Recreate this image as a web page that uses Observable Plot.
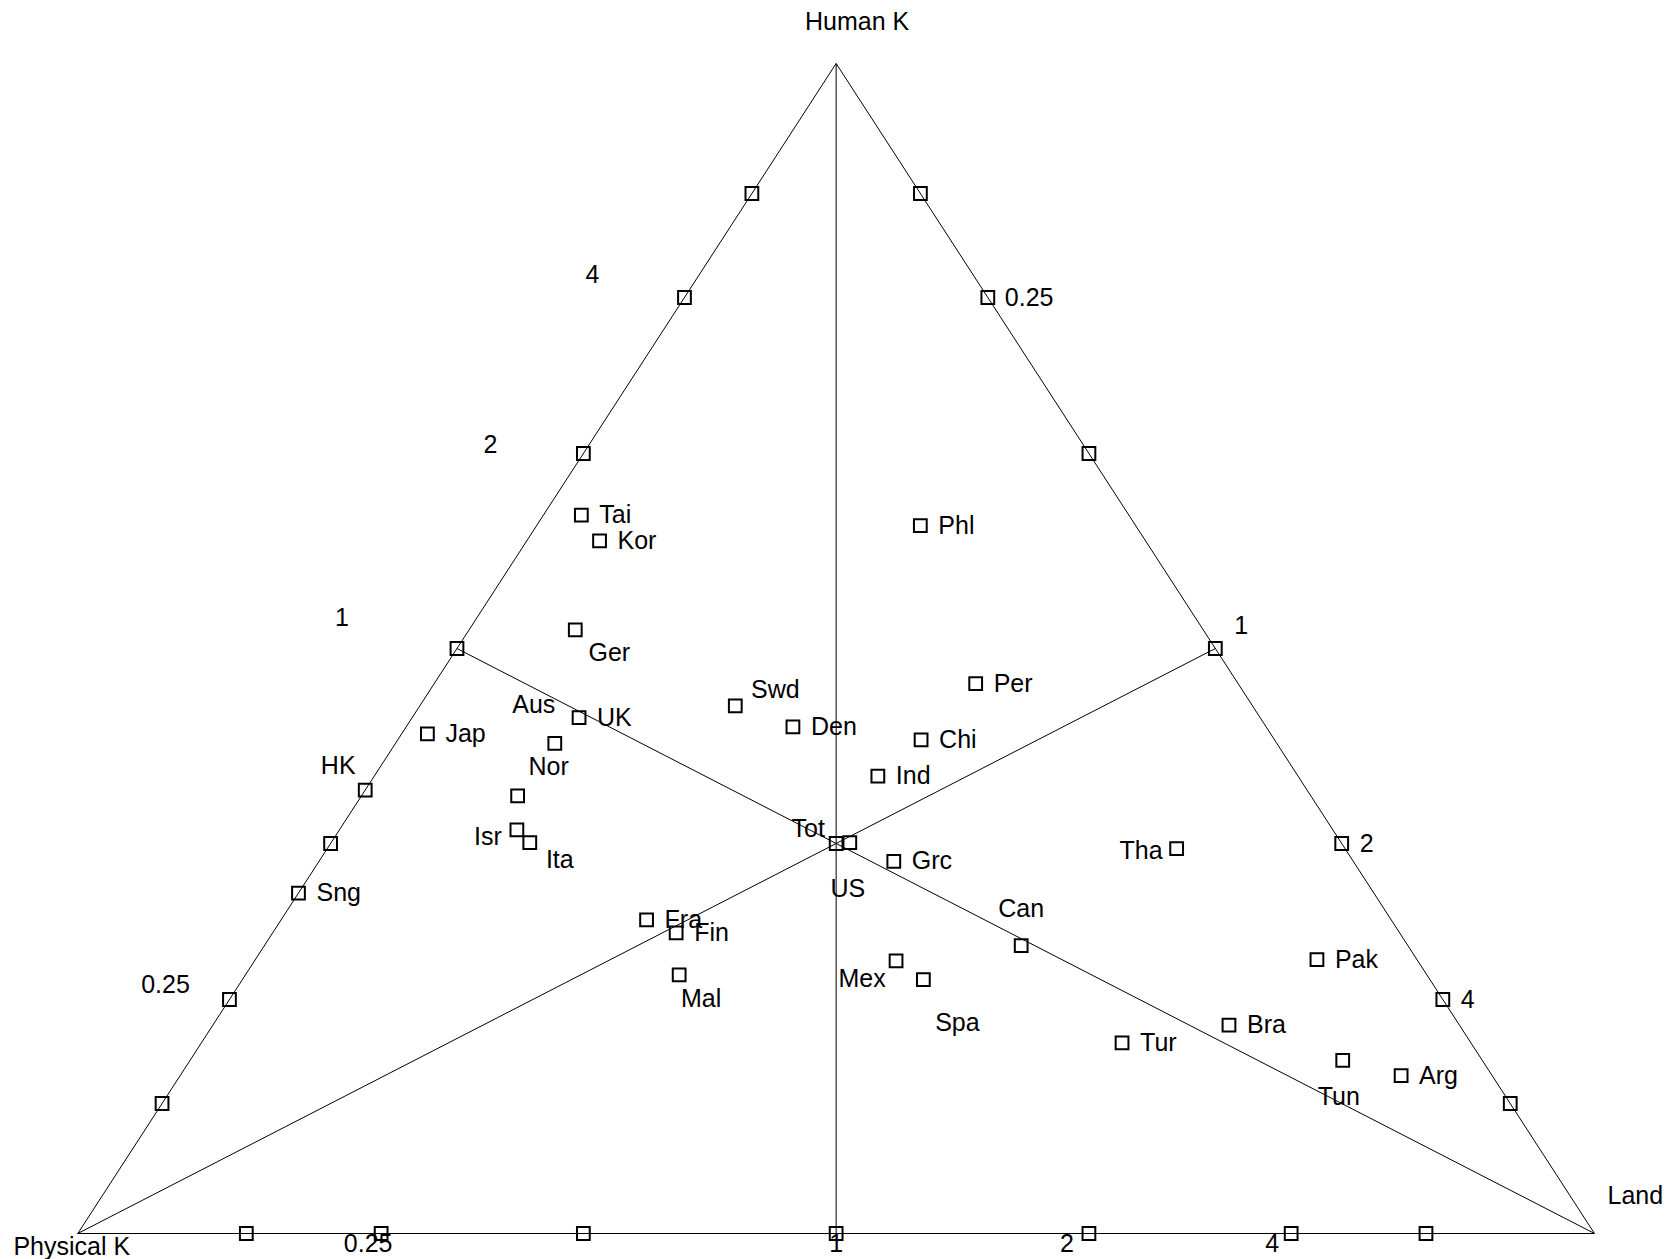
<!DOCTYPE html>
<html><head><meta charset="utf-8">
<script src="https://cdn.jsdelivr.net/npm/d3@7"></script>
<script src="https://cdn.jsdelivr.net/npm/@observablehq/plot@0.6"></script>
<style>body{margin:0;background:#fff}svg{display:block}</style>
</head><body><div id="chart"></div>
<script>
// ---- data (shares of Human K, Physical K, Land) ----
const countries = ["Tai","Kor","Phl","Ger","Per","Swd","UK","Den","Chi","Jap","Aus","Ind","HK","Nor","Isr","Ita","Tot","US","Grc","Tha","Sng","Fra","Fin","Can","Mex","Pak","Mal","Spa","Bra","Tur","Tun","Arg"];
const humanShare    = [0.614,0.592,0.605,0.516,0.470,0.451,0.441,0.433,0.422,0.427,0.419,0.391,0.379,0.374,0.345,0.334,0.3333,0.334,0.318,0.329,0.291,0.268,0.257,0.246,0.233,0.234,0.221,0.217,0.178,0.163,0.148,0.135];
const physicalShare = [0.361,0.360,0.142,0.414,0.173,0.341,0.449,0.312,0.233,0.556,0.476,0.277,0.621,0.523,0.538,0.535,0.3333,0.324,0.303,0.111,0.709,0.491,0.477,0.255,0.344,0.066,0.493,0.334,0.152,0.230,0.092,0.060];
const landShare     = [0.025,0.048,0.253,0.070,0.357,0.208,0.110,0.255,0.345,0.017,0.105,0.332,0.000,0.103,0.117,0.131,0.3333,0.342,0.379,0.560,0.000,0.241,0.266,0.499,0.423,0.700,0.286,0.449,0.670,0.607,0.760,0.805];
const tickRatios = [0.125, 0.25, 0.5, 1, 2, 4, 8];
const tickLabels = ["", "0.25", "", "1", "2", "4", ""];
const vertexNames = ["Physical K", "Human K", "Land"];

// ---- layout / style ----
const font = "'Liberation Sans', Arial, Helvetica, sans-serif";
const FS = 25;
const labelNudge = {
  Ger:{a:"middle",dx:34,dy:23}, Swd:{a:"middle",dx:40,dy:-16}, Aus:{a:"middle",dx:-21,dy:-38},
  Nor:{a:"middle",dx:31,dy:-29}, Isr:{a:"end",dx:-15,dy:7}, Ita:{a:"middle",dx:30,dy:17},
  Tot:{a:"middle",dx:-28,dy:-15}, US:{a:"middle",dx:-2,dy:46}, Tha:{a:"end",dx:-14,dy:2},
  Can:{a:"middle",dx:0,dy:-37}, Mex:{a:"middle",dx:-34,dy:18}, Spa:{a:"middle",dx:34,dy:43},
  Tun:{a:"middle",dx:-4,dy:37}, HK:{a:"middle",dx:-27,dy:-24}, Mal:{a:"middle",dx:22,dy:24}
};
const defaultNudge = {a:"start",dx:18,dy:0};
const tickNudge = {
  left:  {"0.25":{a:"middle",dx:-64,dy:-15}, "1":{a:"middle",dx:-115,dy:-31}, "2":{a:"middle",dx:-93,dy:-9}, "4":{a:"middle",dx:-92,dy:-23}},
  right: {"0.25":{a:"start",dx:17,dy:0}, "1":{a:"middle",dx:26,dy:-23}, "2":{a:"start",dx:18,dy:0}, "4":{a:"start",dx:18,dy:0}},
  bottom:{"0.25":{a:"middle",dx:-13,dy:10}, "1":{a:"middle",dx:0,dy:10}, "2":{a:"middle",dx:-22,dy:10}, "4":{a:"middle",dx:-19,dy:10}}
};

function toXY(h, p, l) { const s = h + p + l; h /= s; l /= s; return {x: l + h / 2, y: h}; }

const points = countries.map((c, i) => ({name: c, ...toXY(humanShare[i], physicalShare[i], landShare[i])}));

const vP = toXY(0,1,0), vH = toXY(1,0,0), vL = toXY(0,0,1);
const triangle = [vP, vH, vL, vP];
const medians = [
  {a: vH, b: toXY(0,0.5,0.5)},
  {a: vP, b: toXY(0.5,0,0.5)},
  {a: vL, b: toXY(0.5,0.5,0)}
];

const edges = {
  bottom: r => { const t = r/(1+r); return toXY(0, 1-t, t); },   // Land / Physical
  left:   r => { const t = r/(1+r); return toXY(t, 1-t, 0); },   // Human / Physical
  right:  r => { const t = r/(1+r); return toXY(1-t, 0, t); }    // Land / Human
};
const ticks = [];
for (const e of Object.keys(edges)) tickRatios.forEach((r, i) => ticks.push({edge: e, label: tickLabels[i], ...edges[e](r)}));

const marks = [
  Plot.line(triangle, {x:"x", y:"y", stroke:"black", strokeWidth:1}),
  Plot.link(medians, {x1:d=>d.a.x, y1:d=>d.a.y, x2:d=>d.b.x, y2:d=>d.b.y, stroke:"black", strokeWidth:1}),
  Plot.dot(ticks, {x:"x", y:"y", symbol:"square", r:7.2, fill:"none", stroke:"black", strokeWidth:2}),
  Plot.dot(points, {x:"x", y:"y", symbol:"square", r:7.2, fill:"none", stroke:"black", strokeWidth:2})
];
for (const p of points) {
  const n = labelNudge[p.name] || defaultNudge;
  marks.push(Plot.text([p], {x:"x", y:"y", text:"name", textAnchor:n.a, dx:n.dx, dy:n.dy, fontSize:FS, fontFamily:font, fill:"black"}));
}
for (const t of ticks) {
  if (!t.label) continue;
  const n = tickNudge[t.edge][t.label];
  marks.push(Plot.text([t], {x:"x", y:"y", text:"label", textAnchor:n.a, dx:n.dx, dy:n.dy, fontSize:FS, fontFamily:font, fill:"black"}));
}
const vertexLabels = [
  {name: vertexNames[0], ...vP, a:"middle", dx:-6, dy:13},
  {name: vertexNames[1], ...vH, a:"middle", dx:21, dy:-42},
  {name: vertexNames[2], ...vL, a:"start", dx:13, dy:-38}
];
for (const v of vertexLabels) {
  marks.push(Plot.text([v], {x:"x", y:"y", text:"name", textAnchor:v.a, dx:v.dx, dy:v.dy, fontSize:FS, fontFamily:font, fill:"black"}));
}

const chart = Plot.plot({
  width: 1667, height: 1259, margin: 0,
  x: {domain:[0,1], range:[77.3,1594], axis:null},
  y: {domain:[0,1], range:[1233,63], axis:null},
  style: {background:"white", fontFamily:font},
  marks
});
document.getElementById("chart").appendChild(chart);
</script>
</body></html>
